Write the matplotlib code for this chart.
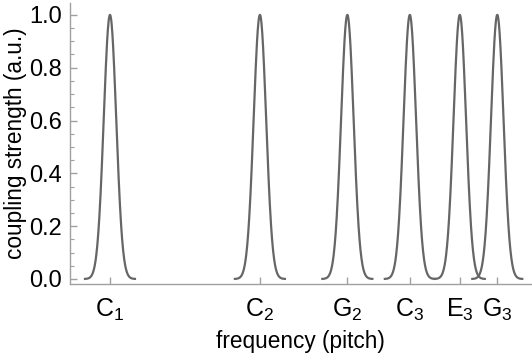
import numpy as np
import matplotlib.pyplot as plt

plt.rcParams['font.family'] = ['Liberation Sans', 'DejaVu Sans']
plt.rcParams['mathtext.default'] = 'regular'

# note names and their pitch (MIDI semitone numbers)
notes = ['C$_1$', 'C$_2$', 'G$_2$', 'C$_3$', 'E$_3$', 'G$_3$']
pitch = [24, 36, 43, 48, 52, 55]
peak_height = [1.0, 1.0, 1.0, 1.0, 1.0, 1.0]
sigma = 0.5      # semitones
half_span = 2.0  # each peak drawn over +-2 semitones

fig = plt.figure(figsize=(5.32, 3.53), dpi=100)
ax = fig.add_axes([70/532, (353-284)/353, (531-70)/532, (284-3)/353])

line_col = '#666666'
for p, h in zip(pitch, peak_height):
    x = np.linspace(p - half_span, p + half_span, 200)
    ax.plot(x, h*np.exp(-(x - p)**2/(2*sigma**2)), color=line_col, lw=1.6)

ax.set_xlim(20.8, 57.7)
ax.set_ylim(-0.019, 1.045)

ax.set_xticks(pitch)
ax.set_xticklabels(notes)
ax.set_yticks([0, 0.2, 0.4, 0.6, 0.8, 1.0])
ax.set_yticklabels(['0.0', '0.2', '0.4', '0.6', '0.8', '1.0'])
ax.set_yticks(np.arange(0, 1.0001, 0.05), minor=True)

for s in ['top', 'right']:
    ax.spines[s].set_visible(False)
for s in ['left', 'bottom']:
    ax.spines[s].set_color('#a0a0a0')
    ax.spines[s].set_linewidth(1.0)

ax.tick_params(axis='both', which='major', direction='in', length=5,
               width=1.0, color='#a0a0a0', labelsize=17, pad=6)
ax.tick_params(axis='y', which='minor', direction='in', length=3,
               width=0.8, color='#a0a0a0')
ax.tick_params(axis='x', which='major', labelsize=18, pad=9)

ax.set_xlabel('frequency (pitch)', fontsize=16.3, labelpad=5)
ax.set_ylabel('coupling strength (a.u.)', fontsize=16.3, labelpad=1.5)

fig.savefig('out.png', dpi=100)
